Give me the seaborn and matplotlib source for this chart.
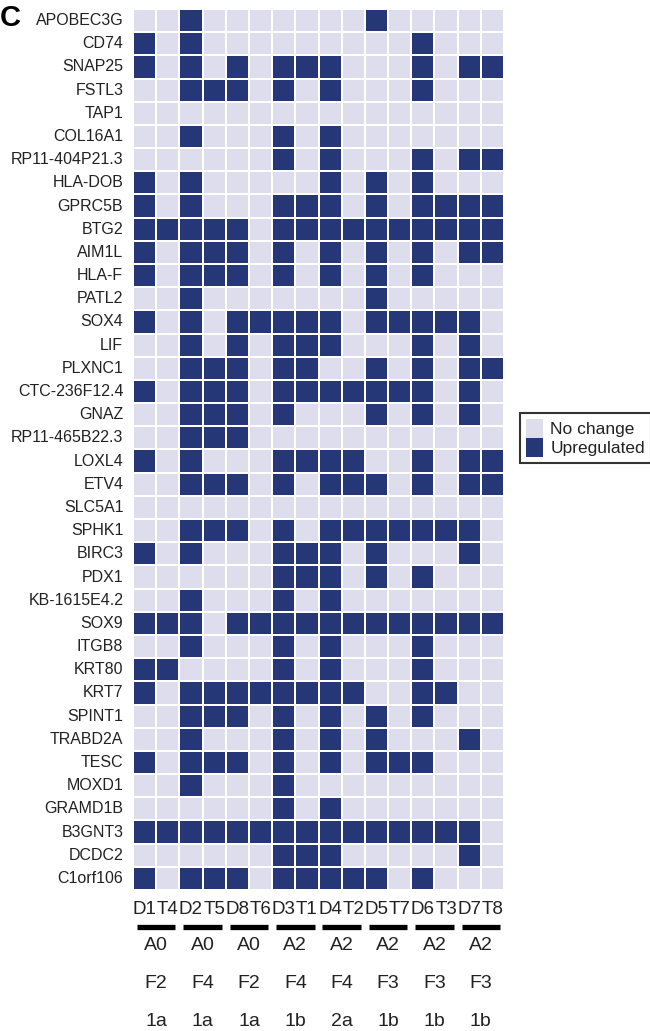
import numpy as np
import pandas as pd
import seaborn as sns
import matplotlib.pyplot as plt
from matplotlib.colors import ListedColormap
from matplotlib.patches import Patch

genes = ['APOBEC3G', 'CD74', 'SNAP25', 'FSTL3', 'TAP1', 'COL16A1', 'RP11-404P21.3',
         'HLA-DOB', 'GPRC5B', 'BTG2', 'AIM1L', 'HLA-F', 'PATL2', 'SOX4', 'LIF',
         'PLXNC1', 'CTC-236F12.4', 'GNAZ', 'RP11-465B22.3', 'LOXL4', 'ETV4', 'SLC5A1',
         'SPHK1', 'BIRC3', 'PDX1', 'KB-1615E4.2', 'SOX9', 'ITGB8', 'KRT80', 'KRT7',
         'SPINT1', 'TRABD2A', 'TESC', 'MOXD1', 'GRAMD1B', 'B3GNT3', 'DCDC2', 'C1orf106']
samples = ['D1', 'T4', 'D2', 'T5', 'D8', 'T6', 'D3', 'T1',
           'D4', 'T2', 'D5', 'T7', 'D6', 'T3', 'D7', 'T8']

# column indices that are upregulated for each gene
upregulated = {
    'APOBEC3G': [2, 10],
    'CD74': [0, 2, 12],
    'SNAP25': [0, 2, 4, 6, 7, 8, 12, 14, 15],
    'FSTL3': [2, 3, 4, 6, 8, 12],
    'TAP1': [],
    'COL16A1': [2, 6, 8],
    'RP11-404P21.3': [6, 8, 12, 14, 15],
    'HLA-DOB': [0, 2, 8, 10, 12],
    'GPRC5B': [0, 2, 6, 7, 8, 10, 12, 13, 14, 15],
    'BTG2': [0, 1, 2, 3, 4, 6, 7, 8, 9, 10, 11, 12, 13, 14, 15],
    'AIM1L': [0, 2, 3, 4, 6, 8, 10, 12, 14, 15],
    'HLA-F': [0, 2, 3, 4, 6, 8, 10, 12],
    'PATL2': [2, 10],
    'SOX4': [0, 2, 4, 5, 6, 7, 8, 10, 11, 12, 13, 14],
    'LIF': [2, 4, 6, 7, 8, 12, 14],
    'PLXNC1': [2, 3, 4, 6, 7, 10, 12, 14, 15],
    'CTC-236F12.4': [0, 2, 3, 4, 6, 7, 8, 9, 10, 11, 12, 14],
    'GNAZ': [2, 3, 4, 6, 10, 12, 14],
    'RP11-465B22.3': [2, 3, 4],
    'LOXL4': [0, 2, 6, 7, 8, 9, 12, 14, 15],
    'ETV4': [2, 3, 4, 6, 8, 9, 10, 12, 14, 15],
    'SLC5A1': [],
    'SPHK1': [2, 3, 4, 6, 8, 9, 10, 11, 12, 13, 14],
    'BIRC3': [0, 2, 6, 7, 8, 10, 14],
    'PDX1': [6, 7, 8, 10, 12],
    'KB-1615E4.2': [2, 6, 8],
    'SOX9': [0, 1, 2, 4, 5, 6, 7, 8, 9, 10, 11, 12, 13, 14, 15],
    'ITGB8': [2, 6, 8, 12],
    'KRT80': [0, 1, 6, 8, 12],
    'KRT7': [0, 2, 3, 4, 5, 6, 7, 8, 9, 12, 13],
    'SPINT1': [2, 3, 4, 6, 8, 10, 12],
    'TRABD2A': [2, 6, 8, 10, 14],
    'TESC': [0, 2, 3, 4, 6, 8, 10, 11, 12],
    'MOXD1': [2, 6],
    'GRAMD1B': [6, 8],
    'B3GNT3': [0, 1, 2, 3, 4, 5, 6, 7, 8, 9, 10, 11, 12, 13, 14],
    'DCDC2': [6, 7, 8, 14],
    'C1orf106': [0, 2, 3, 4, 6, 7, 8, 9, 10, 12],
}

grade = ['A0', 'A0', 'A0', 'A2', 'A2', 'A2', 'A2', 'A2']
fib = ['F2', 'F4', 'F2', 'F4', 'F4', 'F3', 'F3', 'F3']
group = ['1a', '1a', '1a', '1b', '2a', '1b', '1b', '1b']

light = '#dddded'
dark = '#253777'
txt = '#222222'

mat = np.zeros((len(genes), len(samples)), dtype=int)
for i, g in enumerate(genes):
    mat[i, upregulated[g]] = 1
df = pd.DataFrame(mat, index=genes, columns=samples)

plt.rcParams['font.family'] = ['Liberation Sans', 'DejaVu Sans']

W, H = 650, 1031
top, bot = 9, 890
fig = plt.figure(figsize=(W / 100, H / 100), dpi=100)
ax = fig.add_axes([133 / W, 1 - bot / H, (504 - 133) / W, (bot - top) / H])

sns.heatmap(df, ax=ax, cmap=ListedColormap([light, dark]), vmin=0, vmax=1,
            cbar=False, linewidths=1.2, linecolor='white',
            xticklabels=False, yticklabels=True)
ax.set_xlabel('')
ax.set_ylabel('')
ax.tick_params(axis='y', length=0, pad=7, labelsize=11.5, labelcolor=txt)
plt.setp(ax.get_yticklabels(), rotation=0)

trans = ax.get_xaxis_transform()


def below(ypx):
    # pixel row in the figure -> axes fraction below the heatmap
    return (bot - ypx) / (bot - top)


# sample labels under the columns
for j, s in enumerate(samples):
    ax.text(j + 0.5, below(909), s, transform=trans, ha='center', va='center',
            fontsize=13.5, color=txt)

for k in range(len(grade)):
    x0 = 2 * k
    ax.plot([x0 + 0.17, x0 + 1.83], [below(927)] * 2, transform=trans, clip_on=False,
            color='black', lw=3.8, solid_capstyle='butt')
    for lab, ypx in [(grade[k], 946), (fib[k], 984), (group[k], 1021)]:
        ax.text(x0 + 1, below(ypx), lab, transform=trans, ha='center', va='center',
                fontsize=14, color=txt)

fig.text(0, 1 - 18 / H, 'C', fontsize=21, fontweight='bold', va='center', ha='left')

handles = [Patch(facecolor=light, edgecolor='none', label='No change'),
           Patch(facecolor=dark, edgecolor='none', label='Upregulated')]
leg = fig.legend(handles=handles, loc='upper left', bbox_to_anchor=(520 / W, 1 - 413 / H),
                 frameon=True, fancybox=False, fontsize=12.5, handlelength=1.0,
                 handleheight=1.3, handletextpad=0.4, borderpad=0.35, labelspacing=0.0,
                 borderaxespad=0)
leg.get_frame().set_edgecolor('black')
leg.get_frame().set_linewidth(1.5)
for t in leg.get_texts():
    t.set_color(txt)

fig.savefig('out.png', dpi=100)
